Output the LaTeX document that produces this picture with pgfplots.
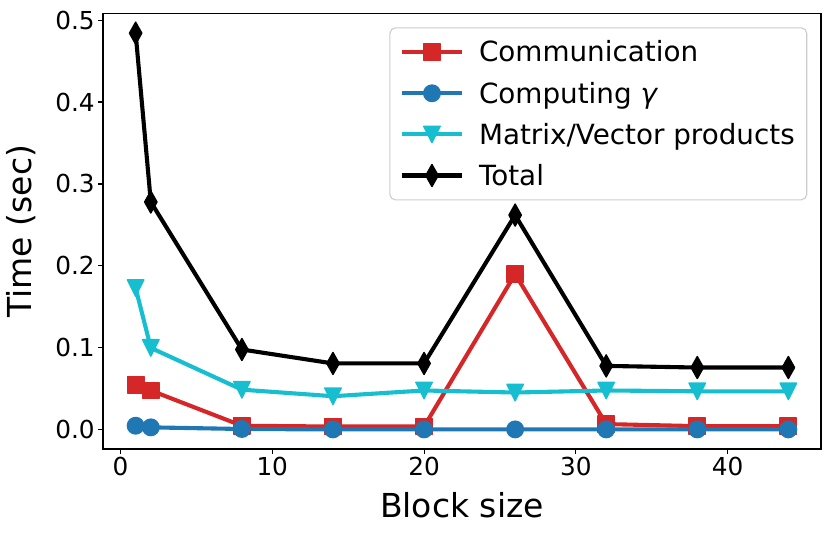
\documentclass[border=0pt]{standalone}
\usepackage{fontspec}
\setmainfont{DejaVu Sans}
\usepackage{pgfplots}
\pgfplotsset{compat=1.18}
\definecolor{cRed}{HTML}{D62728}
\definecolor{cBlue}{HTML}{1F77B4}
\definecolor{cCyan}{HTML}{17BECF}
\definecolor{legframe}{HTML}{CCCCCC}
\begin{document}
\begin{tikzpicture}
\useasboundingbox (-103pt,-87pt) rectangle (728pt,449pt);
\begin{axis}[
  scale only axis, width=718pt, height=435.5pt,
  xmin=-1.15, xmax=46.15, ymin=-0.0234, ymax=0.508,
  xtick={0,10,20,30,40}, ytick={0,0.1,0.2,0.3,0.4,0.5},
  xtick pos=left, ytick pos=left, tick align=outside,
  major tick length=4.8pt,
  every tick/.style={black, line width=1.1pt},
  axis line style={line width=1.1pt, black},
  /pgf/number format/assume math mode=true,
  ticklabel style={font=\fontsize{24.75}{29}\selectfont},
  yticklabel style={/pgf/number format/.cd, fixed, fixed zerofill, precision=1},
  xlabel={Block size}, ylabel={Time (sec)},
  label style={font=\fontsize{33}{40}\selectfont},
  xlabel style={at={(axis description cs:0.5,-0.1584)}, anchor=base},
  ylabel style={at={(axis description cs:-0.1142,0.5)}, anchor=center, rotate=0},
  legend cell align=left,
  legend image code/.code={\draw[sharp corners, opacity=1, fill opacity=1, draw opacity=1, mark repeat=2, mark phase=2] plot coordinates {(0pt,0pt) (30pt,0pt) (60pt,0pt)};},
  legend style={at={(axis description cs:0.9809,0.9683)}, anchor=north east,
    draw=legframe, line width=1.1pt, rounded corners=5.5pt,
    fill=white, fill opacity=0.8, text opacity=1,
    font=\fontsize{27.8}{33}\selectfont,
    inner xsep=10pt, inner ysep=11pt, row sep=14.5pt,
    /tikz/every odd column/.append style={column sep=13pt}},
  every axis plot/.append style={line width=4.1pt, line join=round},
]
\addplot[cRed, mark=square*, mark size=8.25pt, mark options={solid, line width=1.4pt}]
 coordinates {(1,0.055)(2,0.048)(8,0.005)(14,0.004)(20,0.004)(26,0.190)(32,0.007)(38,0.0045)(44,0.0045)};
\addlegendentry{Communication}
\addplot[cBlue, mark=*, mark size=8.25pt, mark options={solid, line width=1.4pt}]
 coordinates {(1,0.005)(2,0.003)(8,0.001)(14,0.0005)(20,0.0005)(26,0.0005)(32,0.0005)(38,0.0005)(44,0.0005)};
\addlegendentry{Computing \textit{γ}}
\addplot[cCyan, mark=triangle*, mark size=9.5pt, mark options={solid, line width=1.4pt, yshift=2.7pt, rotate=180, yscale=1.155}]
 coordinates {(1,0.173)(2,0.100)(8,0.049)(14,0.041)(20,0.048)(26,0.0455)(32,0.048)(38,0.047)(44,0.047)};
\addlegendentry{Matrix/Vector products}
\addplot[black, mark=diamond*, mark size=11pt, mark options={solid, line width=1.4pt, xscale=0.75}]
 coordinates {(1,0.484)(2,0.278)(8,0.098)(14,0.081)(20,0.081)(26,0.262)(32,0.078)(38,0.076)(44,0.076)};
\addlegendentry{Total}
\end{axis}
\end{tikzpicture}
\end{document}
